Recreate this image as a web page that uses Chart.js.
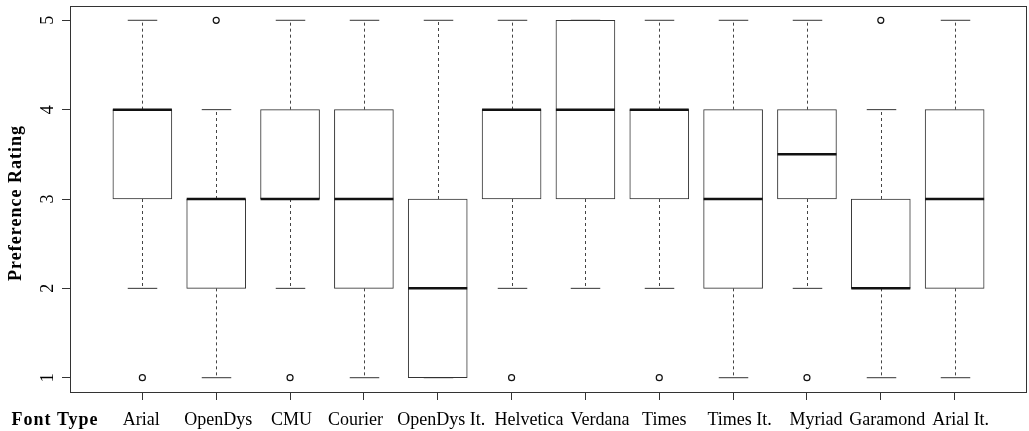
<!DOCTYPE html>
<html>
<head>
<meta charset="utf-8">
<script src="https://cdn.jsdelivr.net/npm/chart.js@4/dist/chart.umd.min.js"></script>
<style>
    html, body { margin: 0; padding: 0; background: #fff; overflow: hidden; }
    #wrap { width: 1029px; height: 431px; }
</style>
</head>
<body>
<div id="wrap"><canvas id="chart-box"></canvas></div>
<script>
// Datos (cajas de Tukey)
const fuentes = ['Arial', 'OpenDys', 'CMU', 'Courier', 'OpenDys It.', 'Helvetica', 'Verdana', 'Times', 'Times It.', 'Myriad', 'Garamond', 'Arial It.'];
const bigoteInf = [2, 1, 2, 1, 1, 2, 2, 2, 1, 2, 1, 1];
const cuartil1  = [3, 2, 3, 2, 1, 3, 3, 3, 2, 3, 2, 2];
const mediana   = [4, 3, 3, 3, 2, 4, 4, 4, 3, 3.5, 2, 3];
const cuartil3  = [4, 3, 4, 4, 3, 4, 5, 4, 4, 4, 3, 4];
const bigoteSup = [5, 4, 5, 5, 5, 5, 5, 5, 5, 5, 4, 5];
// Valores atipicos: [indice de fuente, valor]
const atipicos = [[0, 1], [1, 5], [2, 1], [5, 1], [7, 1], [9, 1], [10, 5]];
const yTicks = [1, 2, 3, 4, 5];

// Ajuste visual: en el original las etiquetas no quedan centradas en su marca (px)
const etiquetaDesplaz = [-1, 2, 1.5, -8.5, 3.5, 17.5, 14.5, 5, 6.5, 9, 6.5, 6];

const FONT = '"Liberation Serif", "DejaVu Serif", serif';
const LINEA = '#333333';

// Plugin para bigotes, medianas, marco y textos de los ejes
const boxplotExtras = {
    id: 'boxplotExtras',
    afterDatasetsDraw(chart) {
        const { ctx, chartArea, scales: { x, y } } = chart;
        const meta = chart.getDatasetMeta(0);
        ctx.save();

        fuentes.forEach((f, i) => {
            const bar = meta.data[i];
            const cx = Math.round(x.getPixelForValue(i + 1)) + 0.5;
            const half = bar.width / 2;
            const cap = half / 2;

            // Bigotes punteados
            ctx.strokeStyle = '#444';
            ctx.lineWidth = 1;
            ctx.setLineDash([3, 3]);
            ctx.beginPath();
            ctx.moveTo(cx, y.getPixelForValue(cuartil3[i]));
            ctx.lineTo(cx, y.getPixelForValue(bigoteSup[i]));
            ctx.moveTo(cx, y.getPixelForValue(cuartil1[i]));
            ctx.lineTo(cx, y.getPixelForValue(bigoteInf[i]));
            ctx.stroke();

            // Topes
            ctx.strokeStyle = LINEA;
            ctx.setLineDash([]);
            ctx.beginPath();
            const ys = y.getPixelForValue(bigoteSup[i]);
            const yi = y.getPixelForValue(bigoteInf[i]);
            ctx.moveTo(cx - cap, ys);
            ctx.lineTo(cx + cap, ys);
            ctx.moveTo(cx - cap, yi);
            ctx.lineTo(cx + cap, yi);
            ctx.stroke();

            // Mediana
            ctx.strokeStyle = '#111';
            ctx.lineWidth = 2.5;
            ctx.beginPath();
            const ym = y.getPixelForValue(mediana[i]);
            ctx.moveTo(bar.x - half, ym);
            ctx.lineTo(bar.x + half, ym);
            ctx.stroke();
        });

        // Marco del grafico
        ctx.strokeStyle = LINEA;
        ctx.lineWidth = 1;
        ctx.strokeRect(chartArea.left + 0.5, chartArea.top + 0.5,
            chartArea.right - chartArea.left - 1, chartArea.bottom - chartArea.top);

        // Etiquetas del eje X
        ctx.fillStyle = '#000';
        ctx.font = '18px ' + FONT;
        ctx.textAlign = 'center';
        ctx.textBaseline = 'alphabetic';
        fuentes.forEach((f, i) => {
            ctx.fillText(f, x.getPixelForValue(i + 1) + etiquetaDesplaz[i], 425);
        });

        // Etiquetas del eje Y (giradas)
        ctx.textBaseline = 'middle';
        yTicks.forEach(v => {
            ctx.save();
            ctx.translate(48, y.getPixelForValue(v));
            ctx.rotate(-Math.PI / 2);
            ctx.fillText(String(v), 0, 0);
            ctx.restore();
        });

        // Titulo del eje Y
        ctx.font = 'bold 18px ' + FONT;
        ctx.letterSpacing = '1px';
        ctx.save();
        ctx.translate(16, 203);
        ctx.rotate(-Math.PI / 2);
        ctx.fillText('Preference Rating', 0, 0);
        ctx.restore();

        // Titulo del eje X a la izquierda
        ctx.textBaseline = 'alphabetic';
        ctx.fillText('Font Type', 55, 425);

        ctx.restore();
    }
};

document.addEventListener('DOMContentLoaded', () => {
    const ctx = document.getElementById('chart-box');

    new Chart(ctx, {
        type: 'bar',
        data: {
            datasets: [{
                label: 'Cajas',
                data: fuentes.map((f, i) => ({ x: i + 1, y: [cuartil1[i], cuartil3[i]] })),
                backgroundColor: '#ffffff',
                borderColor: LINEA,
                borderWidth: 1,
                borderSkipped: false,
                barThickness: 59
            }, {
                type: 'scatter',
                label: 'Atipicos',
                data: atipicos.map(a => ({ x: a[0] + 1, y: a[1] })),
                pointStyle: 'circle',
                pointRadius: 3,
                pointBorderWidth: 1.2,
                pointBorderColor: '#111',
                pointBackgroundColor: 'rgba(0,0,0,0)'
            }]
        },
        options: {
            responsive: true,
            maintainAspectRatio: false,
            animation: false,
            events: [],
            layout: { autoPadding: false, padding: { top: 6, right: 2, left: 0, bottom: 0 } },
            plugins: {
                legend: { display: false },
                tooltip: { enabled: false }
            },
            scales: {
                x: {
                    type: 'linear',
                    min: 0.02,
                    max: 12.98,
                    offset: false,
                    afterBuildTicks: s => { s.ticks = fuentes.map((f, i) => ({ value: i + 1 })); },
                    afterFit: s => { s.height = 39; },
                    border: { display: false },
                    grid: { offset: false, drawOnChartArea: false, drawTicks: true, tickLength: 8, color: LINEA },
                    ticks: { display: false }
                },
                y: {
                    min: 0.84,
                    max: 5.16,
                    afterBuildTicks: s => { s.ticks = yTicks.map(v => ({ value: v })); },
                    afterFit: s => { s.width = 70; },
                    border: { display: false },
                    grid: { drawOnChartArea: false, drawTicks: true, tickLength: 8, color: LINEA },
                    ticks: { display: false }
                }
            }
        },
        plugins: [boxplotExtras]
    });
});
</script>
</body>
</html>
